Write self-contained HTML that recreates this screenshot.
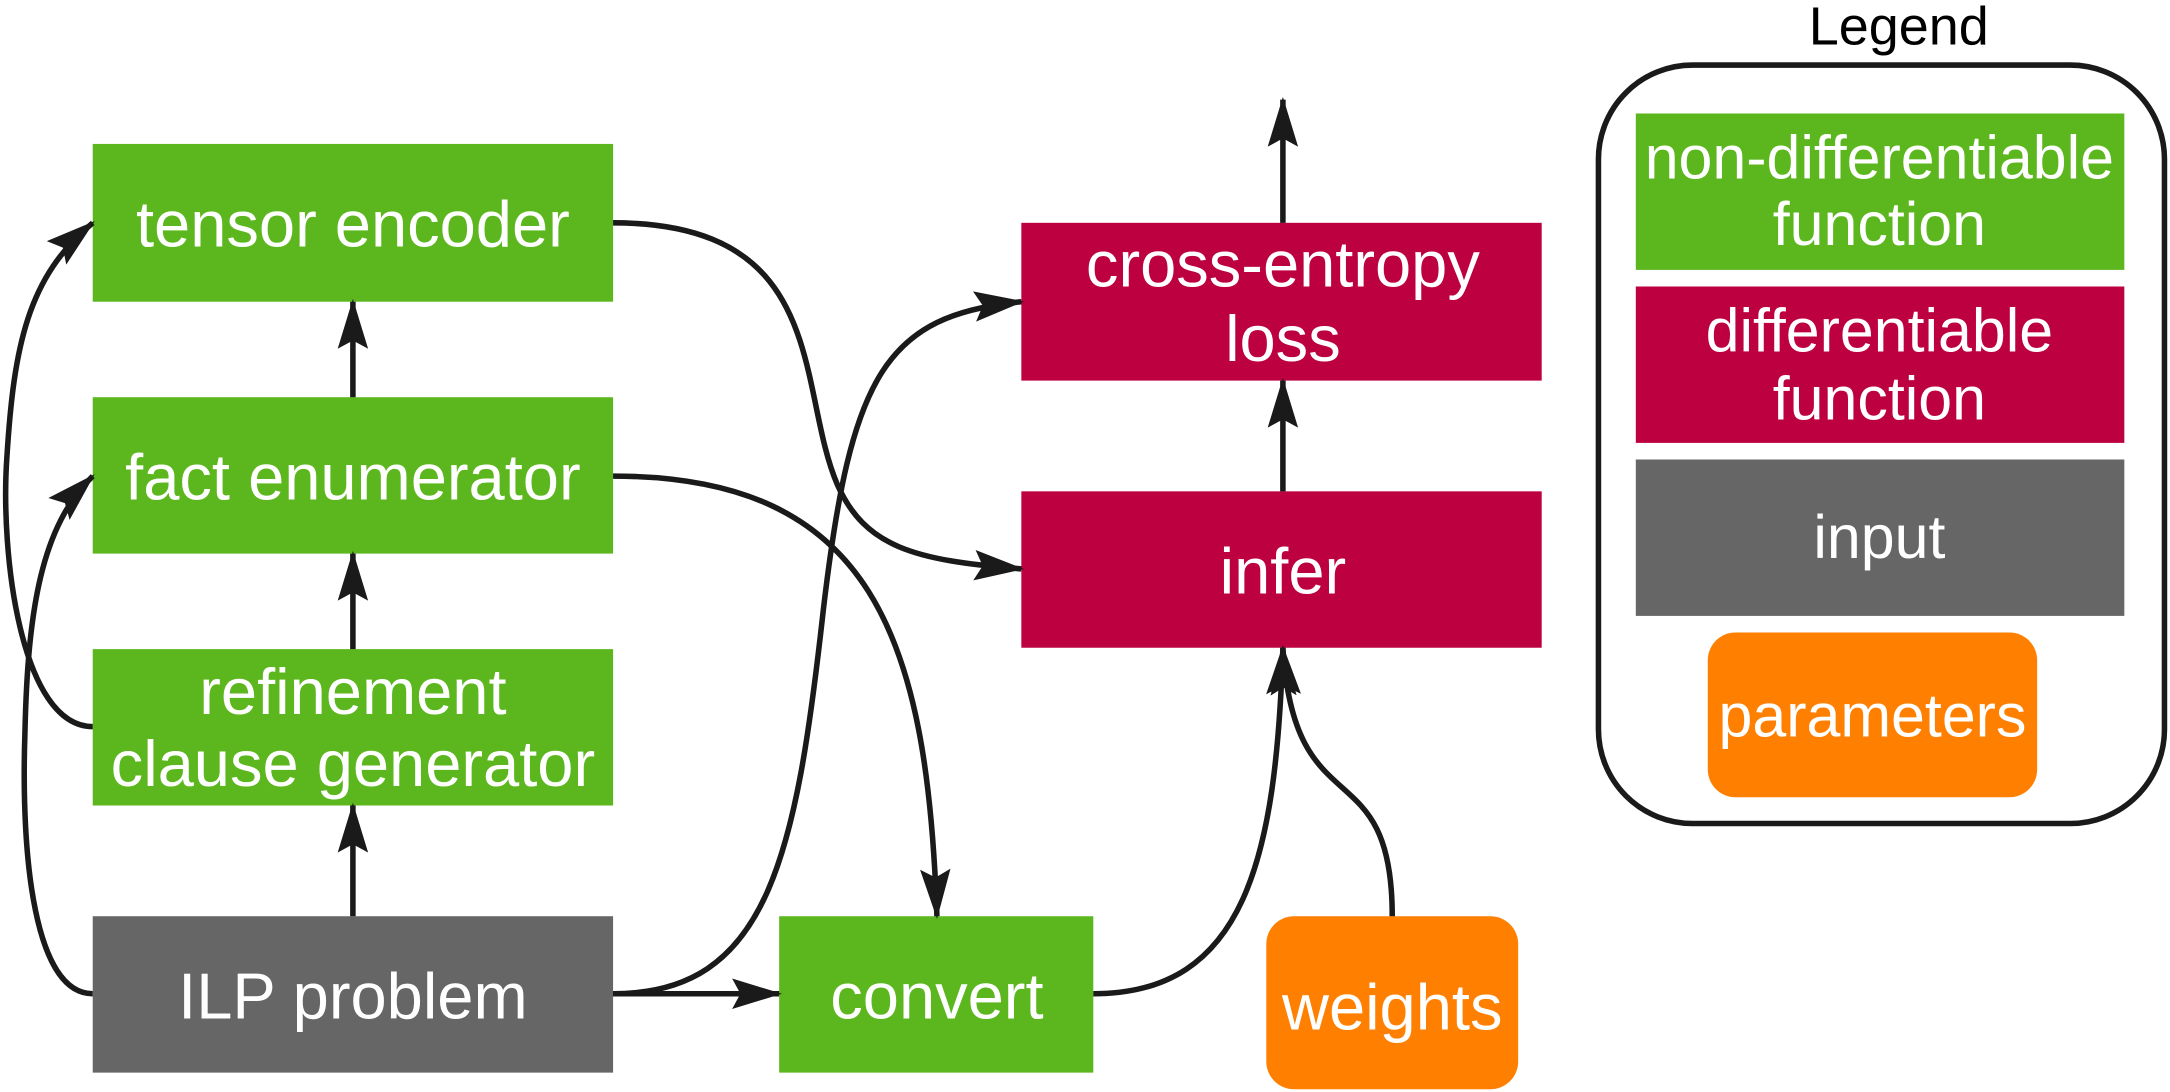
<!DOCTYPE html>
<html><head><meta charset="utf-8"><style>
html,body{margin:0;padding:0;background:#fff;}
svg{display:block;}
text{font-family:"Liberation Sans",sans-serif;font-size:47px;fill:#fff;text-anchor:middle;}
text.l{font-size:44px;}
</style></head><body>
<svg width="2170" height="1092" viewBox="0 0 1568 789" preserveAspectRatio="none" xmlns="http://www.w3.org/2000/svg">
<defs>
<marker id="a" markerWidth="36" markerHeight="24" refX="34" refY="12" orient="auto" markerUnits="userSpaceOnUse">
<path d="M0,1 L36,12 L0,23 L6,12 Z" fill="#1a1a1a"/>
</marker>
</defs>
<!-- legend -->
<text x="1372" y="32" style="fill:#000;font-size:39px">Legend</text>
<rect x="1155" y="47" width="409" height="548" rx="68" fill="none" stroke="#1a1a1a" stroke-width="4"/>
<rect x="1182" y="82" width="353" height="113" fill="#5cb71e"/>
<text class="l" x="1358" y="129">non-differentiable</text><text class="l" x="1358" y="177">function</text>
<rect x="1182" y="207" width="353" height="113" fill="#bd0040"/>
<text class="l" x="1358" y="254">differentiable</text><text class="l" x="1358" y="303">function</text>
<rect x="1182" y="332" width="353" height="113" fill="#666"/>
<text class="l" x="1358" y="403">input</text>
<rect x="1234" y="457" width="238" height="119" rx="20" fill="#ff7f00"/>
<text class="l" x="1353" y="532">parameters</text>
<!-- nodes -->
<rect x="67" y="104" width="376" height="114" fill="#5cb71e"/><text x="255" y="178">tensor encoder</text>
<rect x="67" y="287" width="376" height="113" fill="#5cb71e"/><text x="255" y="361">fact enumerator</text>
<rect x="67" y="469" width="376" height="113" fill="#5cb71e"/><text x="255" y="516">refinement</text><text x="255" y="568">clause generator</text>
<rect x="67" y="662" width="376" height="113" fill="#666"/><text x="255" y="736">ILP problem</text>
<rect x="563" y="662" width="227" height="113" fill="#5cb71e"/><text x="677" y="736">convert</text>
<rect x="915" y="662" width="182" height="125" rx="20" fill="#ff7f00"/><text x="1006" y="744">weights</text>
<rect x="738" y="161" width="376" height="114" fill="#bd0040"/><text x="927" y="207">cross-entropy</text><text x="927" y="261">loss</text>
<rect x="738" y="355" width="376" height="113" fill="#bd0040"/><text x="927" y="429">infer</text>
<!-- edges -->
<g fill="none" stroke="#1a1a1a" stroke-width="4" marker-end="url(#a)">
<path d="M255,662 V582"/>
<path d="M255,469 V400"/>
<path d="M255,287 V218"/>
<path d="M927,355 V275"/>
<path d="M927,161 V72"/>
<path d="M443,718 H563"/>
<path d="M67,525 C15,525 0,400 5,330 C10,250 20,200 67,161"/>
<path d="M67,718 C25,718 15,620 18,530 C20,440 30,380 67,344"/>
<path d="M443,161 C600,161 575,280 605,350 C625,395 660,405 738,411"/>
<path d="M443,344 C630,344 670,460 677,662"/>
<path d="M443,718 C555,718 575,620 595,440 C615,270 640,228 738,218"/>
<path d="M790,718 C900,718 922,620 927,468"/>
<path d="M1006,662 C1006,540 935,600 927,468"/>
</g>
</svg>
</body></html>
